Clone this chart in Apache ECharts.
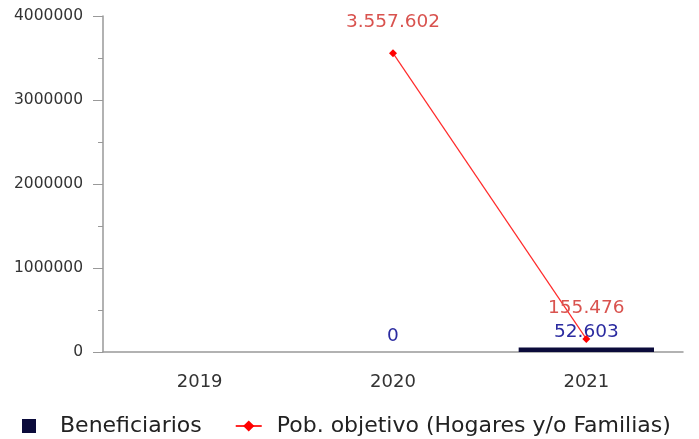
<!DOCTYPE html>
<html>
<head>
<meta charset="utf-8">
<script src="https://cdn.jsdelivr.net/npm/echarts@6/dist/echarts.min.js"></script>
<style>
	html, body { margin: 0; padding: 0; background: #fff; }
	#chart { width: 699px; height: 439px; }
</style>
</head>
<body>
<div id="chart"></div>
<script>
	// datos
	const years = ['2019', '2020', '2021'];
	const beneficiarios = [null, 0, 52603];
	const pobObjetivo = [null, 3557602, 155476];
	const yTicks = [0, 1000000, 2000000, 3000000, 4000000];

	// separador de miles con punto
	function fmt(v) {
		return String(v).replace(/\B(?=(\d{3})+(?!\d))/g, '.');
	}

	const myChart = echarts.init(document.getElementById('chart'));
	const font = 'DejaVu Sans';

	myChart.setOption({
		animation: false,
		textStyle: { fontFamily: font },
		grid: { left: 103, right: 16, top: 16, bottom: 87 },
		legend: {
			top: 415,
			left: 22,
			padding: 0,
			itemGap: 33,
			itemWidth: 26,
			itemHeight: 14,
			textStyle: { fontFamily: font, fontSize: 22, color: '#222' },
			data: [
				{
					name: 'Beneficiarios',
					icon: 'path://M0,0L10,0L10,10L0,10Z',
					textStyle: { padding: [0, 0, 0, 13] }
				},
				{
					name: 'Pob. objetivo (Hogares y/o Familias)',
					textStyle: { padding: [0, 0, 0, 10] }
				}
			]
		},
		xAxis: {
			type: 'category',
			data: years,
			axisLine: { lineStyle: { color: '#999', width: 1.5 } },
			axisTick: { show: false },
			axisLabel: { fontFamily: font, fontSize: 18, color: '#333', margin: 21 }
		},
		yAxis: {
			type: 'value',
			min: yTicks[0],
			max: yTicks[yTicks.length - 1],
			interval: 1000000,
			splitLine: { show: false },
			axisLine: { show: true, lineStyle: { color: '#999', width: 1.5 } },
			axisTick: { show: true, length: 10, lineStyle: { color: '#999' } },
			minorTick: { show: true, splitNumber: 2, length: 5, lineStyle: { color: '#999' } },
			axisLabel: {
				fontFamily: font,
				fontSize: 15.5,
				color: '#333',
				margin: 20,
				formatter: v => String(v)
			}
		},
		series: [
			{
				name: 'Beneficiarios',
				type: 'bar',
				data: beneficiarios,
				barWidth: '70%',
				itemStyle: { color: '#0b0b3b' },
				label: {
					show: true,
					position: 'top',
					distance: 6,
					fontFamily: font,
					fontSize: 18.5,
					color: '#2b2ba0',
					formatter: p => fmt(p.value)
				}
			},
			{
				name: 'Pob. objetivo (Hogares y/o Familias)',
				type: 'line',
				data: pobObjetivo,
				symbol: 'diamond',
				symbolSize: 8,
				itemStyle: { color: '#ff0000' },
				lineStyle: { color: '#ff2a2a', width: 1.2 },
				label: {
					show: true,
					position: 'top',
					distance: 17,
					fontFamily: font,
					fontSize: 18.5,
					color: '#d9534f',
					formatter: p => fmt(p.value)
				}
			}
		]
	});
</script>
</body>
</html>
